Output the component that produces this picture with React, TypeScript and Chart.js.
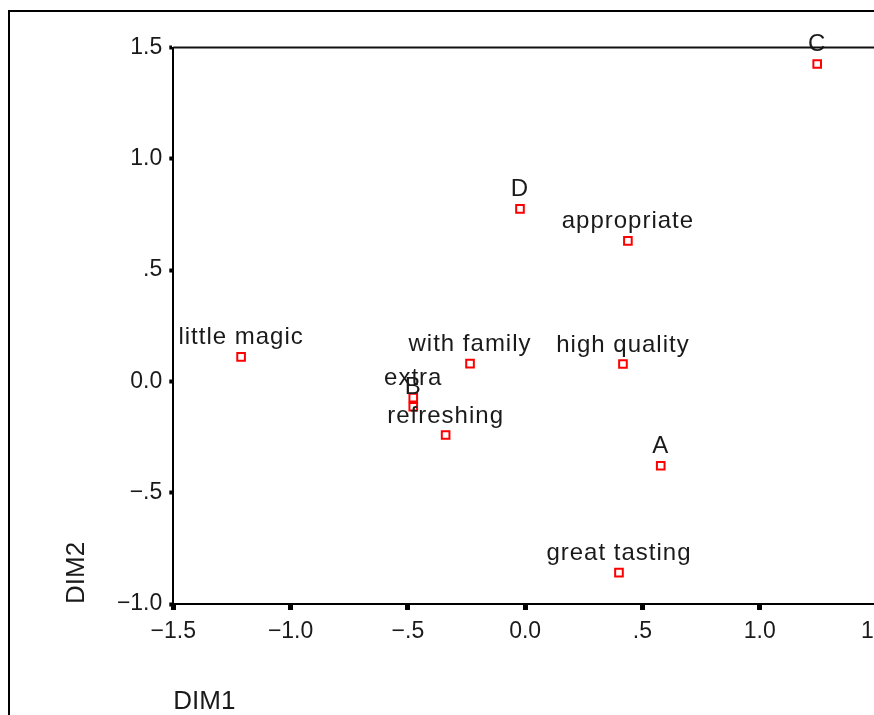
import React, { useEffect, useRef } from "react";
import { Chart, registerables } from "chart.js";

Chart.register(...registerables);

// ---- data ----
const pointLabels = [
  "C",
  "D",
  "appropriate",
  "little magic",
  "with family",
  "high quality",
  "extra",
  "B",
  "refreshing",
  "A",
  "great tasting",
];
const dim1Values = [1.245, -0.022, 0.438, -1.211, -0.235, 0.417, -0.477, -0.477, -0.339, 0.578, 0.4];
const dim2Values = [1.426, 0.775, 0.631, 0.11, 0.08, 0.078, -0.073, -0.114, -0.241, -0.379, -0.859];

const xTickLabels = ["\u22121.5", "\u22121.0", "\u2212.5", "0.0", ".5", "1.0", "1.5"];
const yTickLabels = ["\u22121.0", "\u2212.5", "0.0", ".5", "1.0", "1.5"];
const xMin = -1.5;
const xMax = 1.5;
const yMin = -1.0;
const yMax = 1.5;
const step = 0.5;

const W = 920;
const H = 760;
const FONT = "'Liberation Sans', Arial, Helvetica, sans-serif";

const decorPlugin = {
  id: "decor",
  beforeDraw(chart: any) {
    const ctx = chart.ctx;
    ctx.save();
    ctx.fillStyle = "#ffffff";
    ctx.fillRect(0, 0, chart.width, chart.height);
    ctx.strokeStyle = "#000000";
    ctx.lineWidth = 2;
    ctx.strokeRect(9, 11, chart.width, chart.height);
    ctx.restore();
  },
  afterDraw(chart: any) {
    const ctx = chart.ctx;
    const a = chart.chartArea;
    ctx.save();
    ctx.strokeStyle = "#111111";
    ctx.lineWidth = 2;
    ctx.beginPath();
    ctx.moveTo(a.left, a.top);
    ctx.lineTo(chart.width, a.top);
    ctx.stroke();
    ctx.restore();
  },
  afterDatasetsDraw(chart: any) {
    const ctx = chart.ctx;
    const meta = chart.getDatasetMeta(0);
    ctx.save();
    ctx.font = `24px ${FONT}`;
    ctx.fillStyle = "#1a1a1a";
    ctx.textAlign = "center";
    ctx.textBaseline = "alphabetic";
    try {
      (ctx as any).letterSpacing = "1px";
    } catch (e) {}
    meta.data.forEach((el: any, i: number) => {
      ctx.fillText(pointLabels[i], el.x, el.y - 12.5);
    });
    ctx.restore();
  },
};

export default function App() {
  const ref = useRef<HTMLCanvasElement | null>(null);

  useEffect(() => {
    if (!ref.current) return;
    const data = dim1Values.map((x, i) => ({ x, y: dim2Values[i] }));
    const chart = new Chart(ref.current, {
      type: "scatter",
      data: {
        datasets: [
          {
            data,
            pointStyle: "rect",
            pointRadius: 5.4,
            pointHoverRadius: 5.4,
            pointBorderWidth: 2,
            borderColor: "#ff0000",
            backgroundColor: "rgba(255,255,255,0)",
          },
        ],
      },
      options: {
        responsive: false,
        animation: false,
        events: [],
        layout: { padding: { left: 0, top: 47.5, right: W - 877, bottom: 0 } },
        plugins: {
          legend: { display: false },
          tooltip: { enabled: false },
        },
        scales: {
          x: {
            type: "linear",
            min: xMin,
            max: xMax,
            afterFit: (scale: any) => {
              scale.height = H - 604;
            },
            ticks: {
              stepSize: step,
              color: "#1a1a1a",
              padding: 8,
              font: { family: FONT, size: 23 },
              maxRotation: 0,
              callback: (v: any) => xTickLabels[Math.round((Number(v) - xMin) / step)] ?? "",
            },
            grid: {
              drawOnChartArea: false,
              drawTicks: true,
              tickLength: 6,
              tickWidth: 5,
              tickColor: "#000000",
            },
            border: { display: true, color: "#000000", width: 2 },
            title: {
              display: true,
              text: "DIM1",
              align: "start",
              color: "#1a1a1a",
              font: { family: FONT, size: 26 },
              padding: { top: 0, bottom: 43 },
            },
          },
          y: {
            type: "linear",
            min: yMin,
            max: yMax,
            afterFit: (scale: any) => {
              scale.width = 173.3;
            },
            ticks: {
              stepSize: step,
              color: "#1a1a1a",
              padding: 7,
              font: { family: FONT, size: 23 },
              callback: (v: any) => yTickLabels[Math.round((Number(v) - yMin) / step)] ?? "",
            },
            grid: {
              drawOnChartArea: false,
              drawTicks: true,
              tickLength: 4,
              tickWidth: 4,
              tickColor: "#000000",
            },
            border: { display: true, color: "#000000", width: 2 },
            title: {
              display: true,
              text: "DIM2",
              align: "start",
              color: "#1a1a1a",
              font: { family: FONT, size: 26 },
              padding: { top: 61, bottom: 0 },
            },
          },
        },
      },
      plugins: [decorPlugin],
    });
    return () => chart.destroy();
  }, []);

  return (
    <div
      style={{
        position: "fixed",
        left: 0,
        top: 0,
        width: 874,
        height: 715,
        overflow: "hidden",
        background: "#ffffff",
      }}
    >
      <canvas ref={ref} width={W} height={H} style={{ display: "block", width: W, height: H }} />
    </div>
  );
}
